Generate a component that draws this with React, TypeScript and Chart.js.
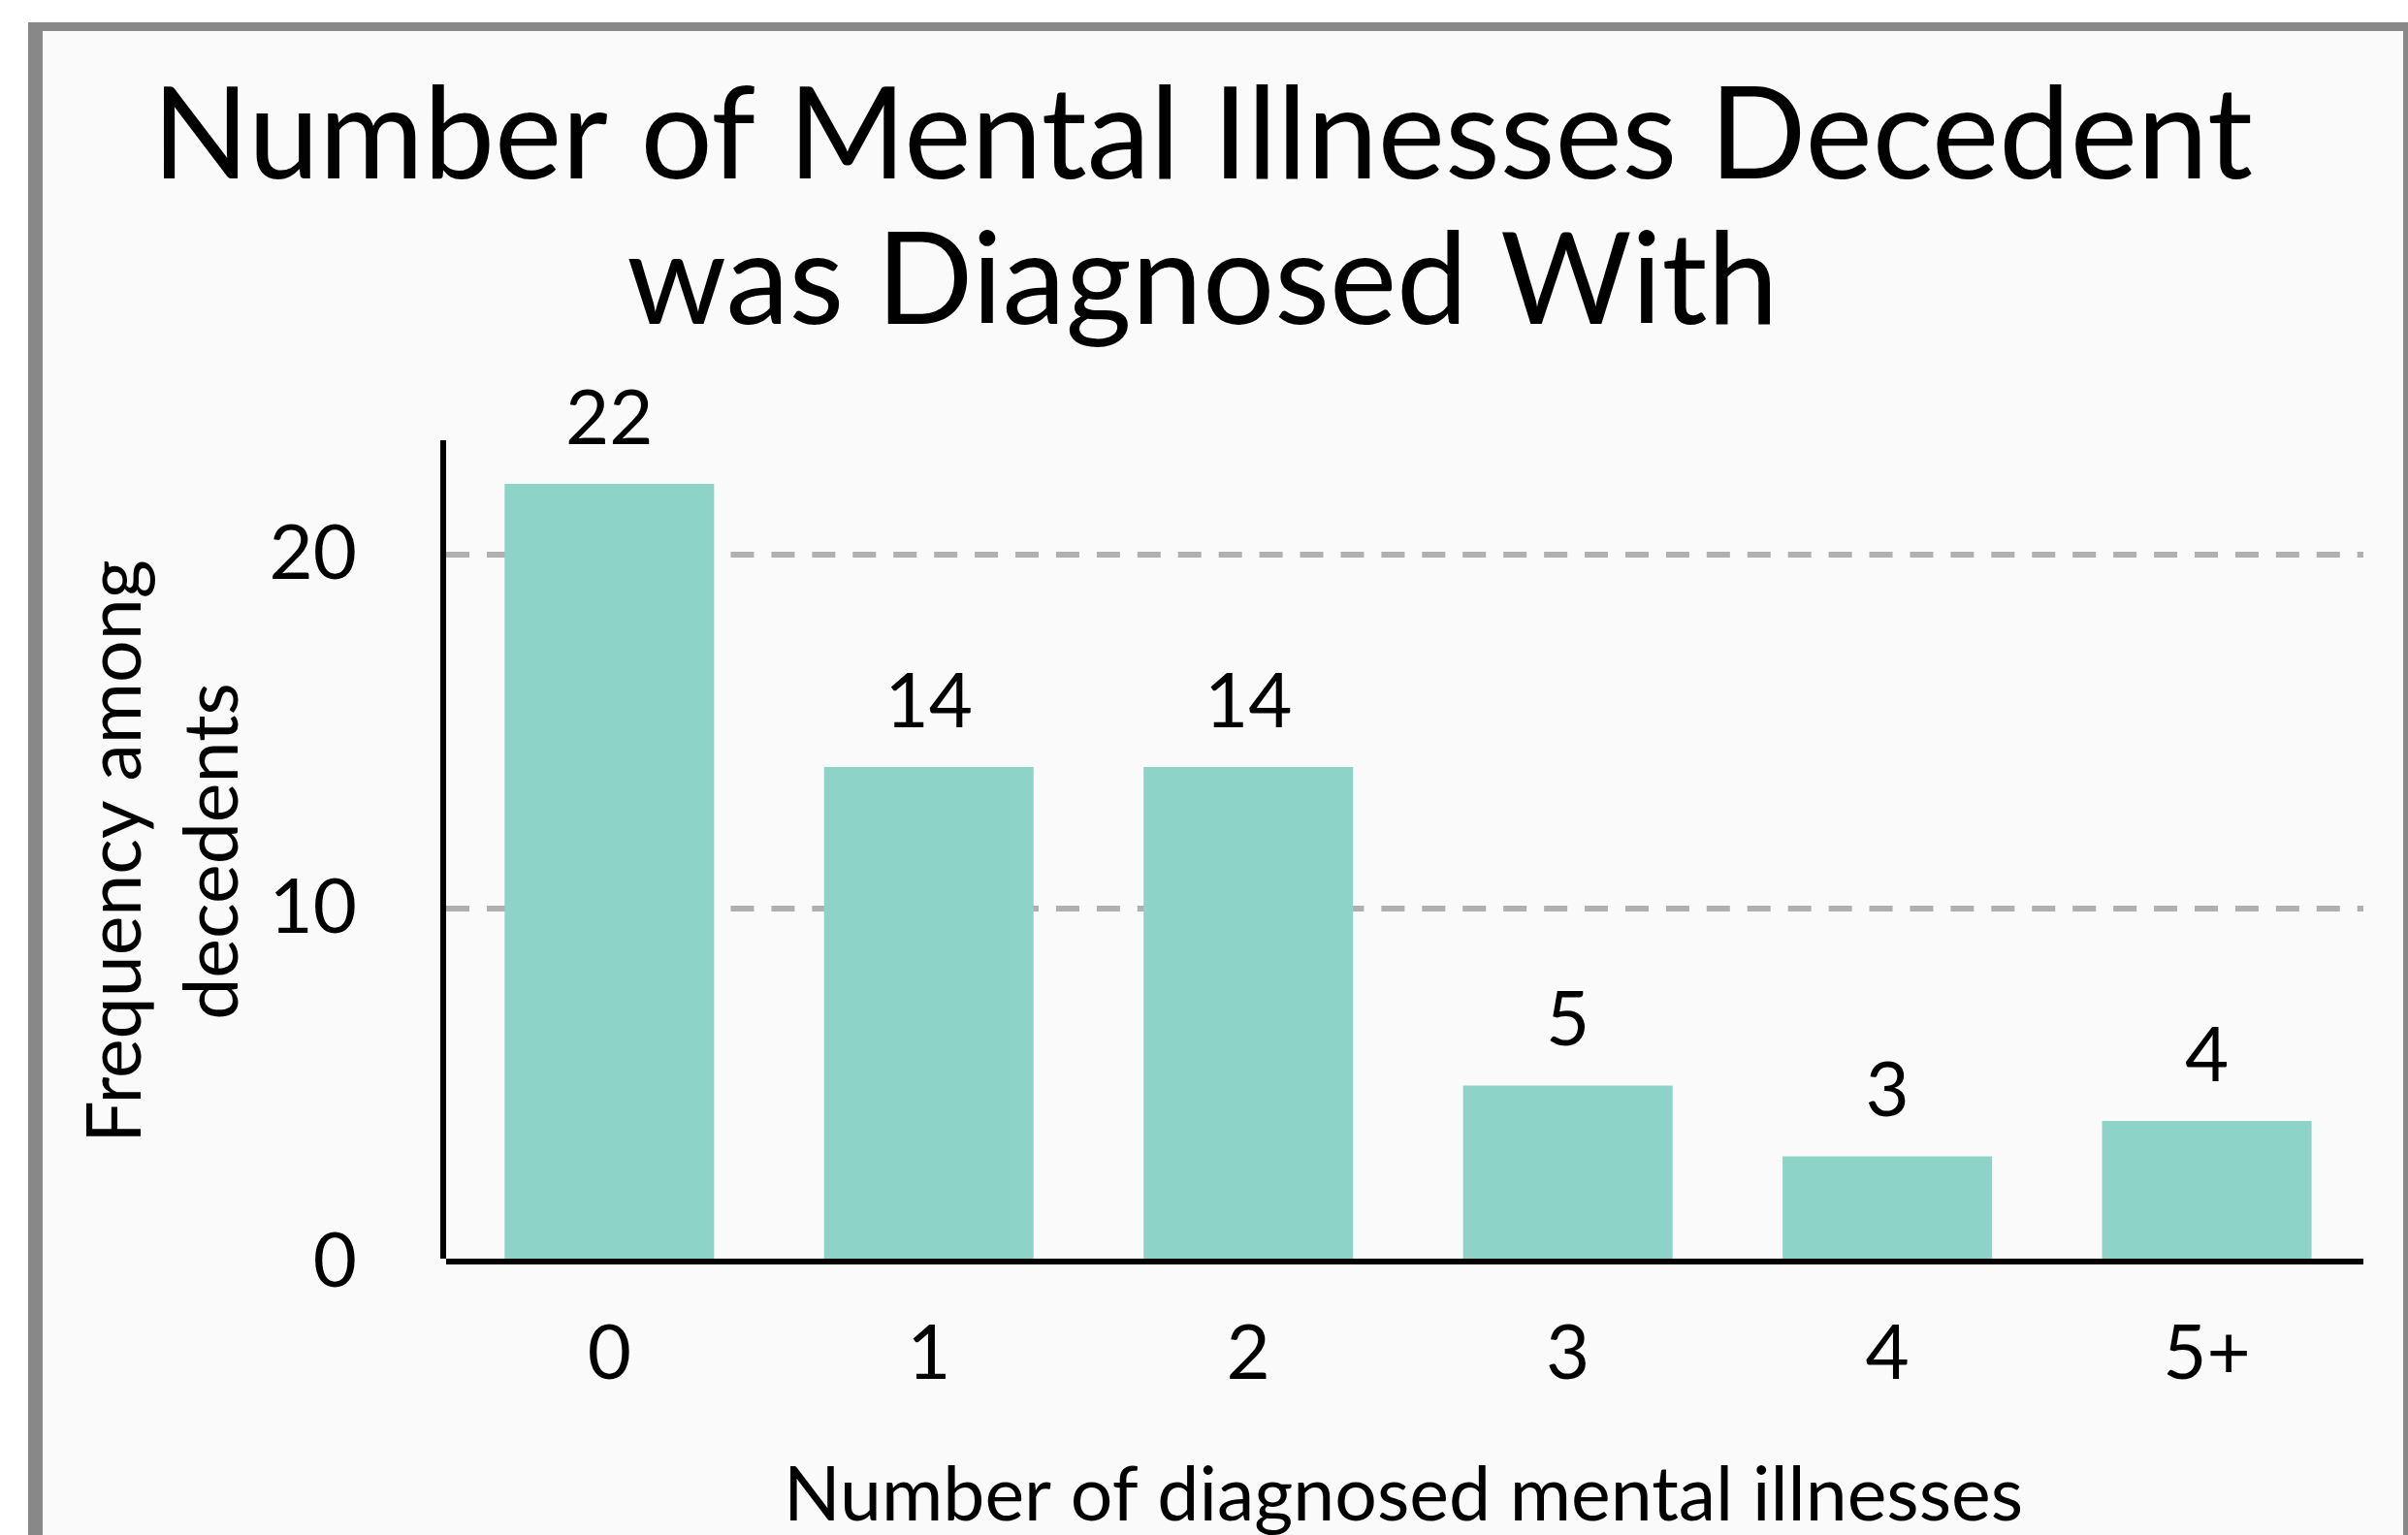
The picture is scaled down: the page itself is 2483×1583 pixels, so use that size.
import React, { useEffect, useRef } from 'react';
import { Chart, registerables } from 'chart.js';

Chart.register(...registerables);

const titleLines = ['Number of Mental Illnesses Decedent', 'was Diagnosed With'];
const categories = ['0', '1', '2', '3', '4', '5+'];
const frequencies = [22, 14, 14, 5, 3, 4];
const yTicks = [0, 10, 20];
const xAxisTitle = 'Number of diagnosed mental illnesses';
const yAxisTitle = ['Frequency among', 'decedents'];

const FONT = 'Lato, "Noto Sans", sans-serif';
const BAR_COLOR = '#8dd3c7';
const GRID_COLOR = '#b0b0b0';

export default function App() {
  const ref = useRef<HTMLCanvasElement | null>(null);

  useEffect(() => {
    const canvas = ref.current;
    if (!canvas) return;

    const spines = {
      id: 'spines',
      afterDatasetsDraw(chart: any) {
        const { ctx, chartArea: a } = chart;
        ctx.save();
        ctx.fillStyle = '#000';
        ctx.fillRect(a.left - 3, a.top, 6, a.bottom - 4 - a.top);
        ctx.fillRect(a.left + 3, a.bottom - 4, a.right - a.left - 3, 6);
        ctx.restore();
      },
    };

    const valueLabels = {
      id: 'valueLabels',
      afterDatasetsDraw(chart: any) {
        const { ctx } = chart;
        const meta = chart.getDatasetMeta(0);
        ctx.save();
        ctx.font = `78px ${FONT}`;
        ctx.fillStyle = '#000';
        ctx.textAlign = 'center';
        ctx.textBaseline = 'alphabetic';
        meta.data.forEach((bar: any, i: number) => {
          ctx.fillText(String(frequencies[i]), bar.x, bar.y - 41);
        });
        ctx.restore();
      },
    };

    const chart = new Chart(canvas, {
      type: 'bar',
      data: {
        datasets: [
          {
            data: categories.map((_, i) => ({ x: i, y: frequencies[i] })),
            backgroundColor: BAR_COLOR,
            borderWidth: 0,
            barPercentage: 0.6557,
            categoryPercentage: 1,
          } as any,
        ],
      },
      options: {
        animation: false,
        responsive: false,
        maintainAspectRatio: false,
        devicePixelRatio: 1,
        events: [],
        layout: { padding: { left: 43, right: 43, top: 0, bottom: 0 } },
        plugins: {
          legend: { display: false },
          tooltip: { enabled: false },
          title: {
            display: true,
            text: titleLines,
            color: '#000',
            font: { size: 131, family: FONT, weight: 'normal', lineHeight: 1.14 },
            padding: { top: 67.5, bottom: 87.8 },
          },
        },
        scales: {
          x: {
            type: 'linear',
            min: -0.52,
            max: 5.49,
            bounds: 'data',
            offset: false,
            afterBuildTicks: (s: any) => {
              s.ticks = categories.map((_, i) => ({ value: i }));
            },
            afterFit: (s: any) => {
              s.height = 281;
            },
            grid: { display: false, drawTicks: false },
            border: { display: false },
            ticks: {
              color: '#000',
              font: { size: 78, family: FONT, lineHeight: 1.2 },
              padding: 48,
              maxRotation: 0,
              autoSkip: false,
              callback: (v: any) => categories[v] ?? '',
            },
            title: {
              display: true,
              text: xAxisTitle,
              color: '#000',
              font: { size: 77, family: FONT, lineHeight: 1 },
              padding: { top: 0, bottom: 1.7 },
            },
          } as any,
          y: {
            min: 0,
            max: 23.23,
            bounds: 'data',
            afterBuildTicks: (s: any) => {
              s.ticks = yTicks.map((v) => ({ value: v }));
            },
            afterFit: (s: any) => {
              s.width = 414;
            },
            grid: {
              color: (c: any) => (c.tick && c.tick.value === 0 ? 'rgba(0,0,0,0)' : GRID_COLOR),
              lineWidth: 6,
              drawTicks: false,
            },
            border: { display: false, dash: [24, 17.93], dashOffset: -3 },
            ticks: {
              color: '#000',
              font: { size: 78, family: FONT },
              padding: 89,
            },
            title: {
              display: true,
              text: yAxisTitle,
              color: '#000',
              font: { size: 77, family: FONT, lineHeight: 1.3 },
              padding: { top: 27, bottom: 0 },
            },
          } as any,
        },
      },
      plugins: [spines, valueLabels],
    } as any);

    let alive = true;
    if ((document as any).fonts && (document as any).fonts.ready) {
      (document as any).fonts.ready.then(() => {
        if (alive) chart.update();
      });
    }

    return () => {
      alive = false;
      chart.destroy();
    };
  }, []);

  return (
    <div
      style={{
        position: 'fixed',
        left: 0,
        top: 0,
        width: 2483,
        height: 1583,
        overflow: 'hidden',
        background: '#ffffff',
      }}
    >
      <div
        style={{
          position: 'absolute',
          left: 29,
          top: 23,
          width: 2434,
          height: 1800,
          borderLeft: '15px solid #888888',
          borderTop: '9px solid #888888',
          borderRight: '5px solid #888888',
          background: '#fafafa',
        }}
      />
      <canvas
        ref={ref}
        width={2480}
        height={1583}
        style={{ position: 'absolute', left: 0, top: 0, width: 2480, height: 1583 }}
      />
    </div>
  );
}
